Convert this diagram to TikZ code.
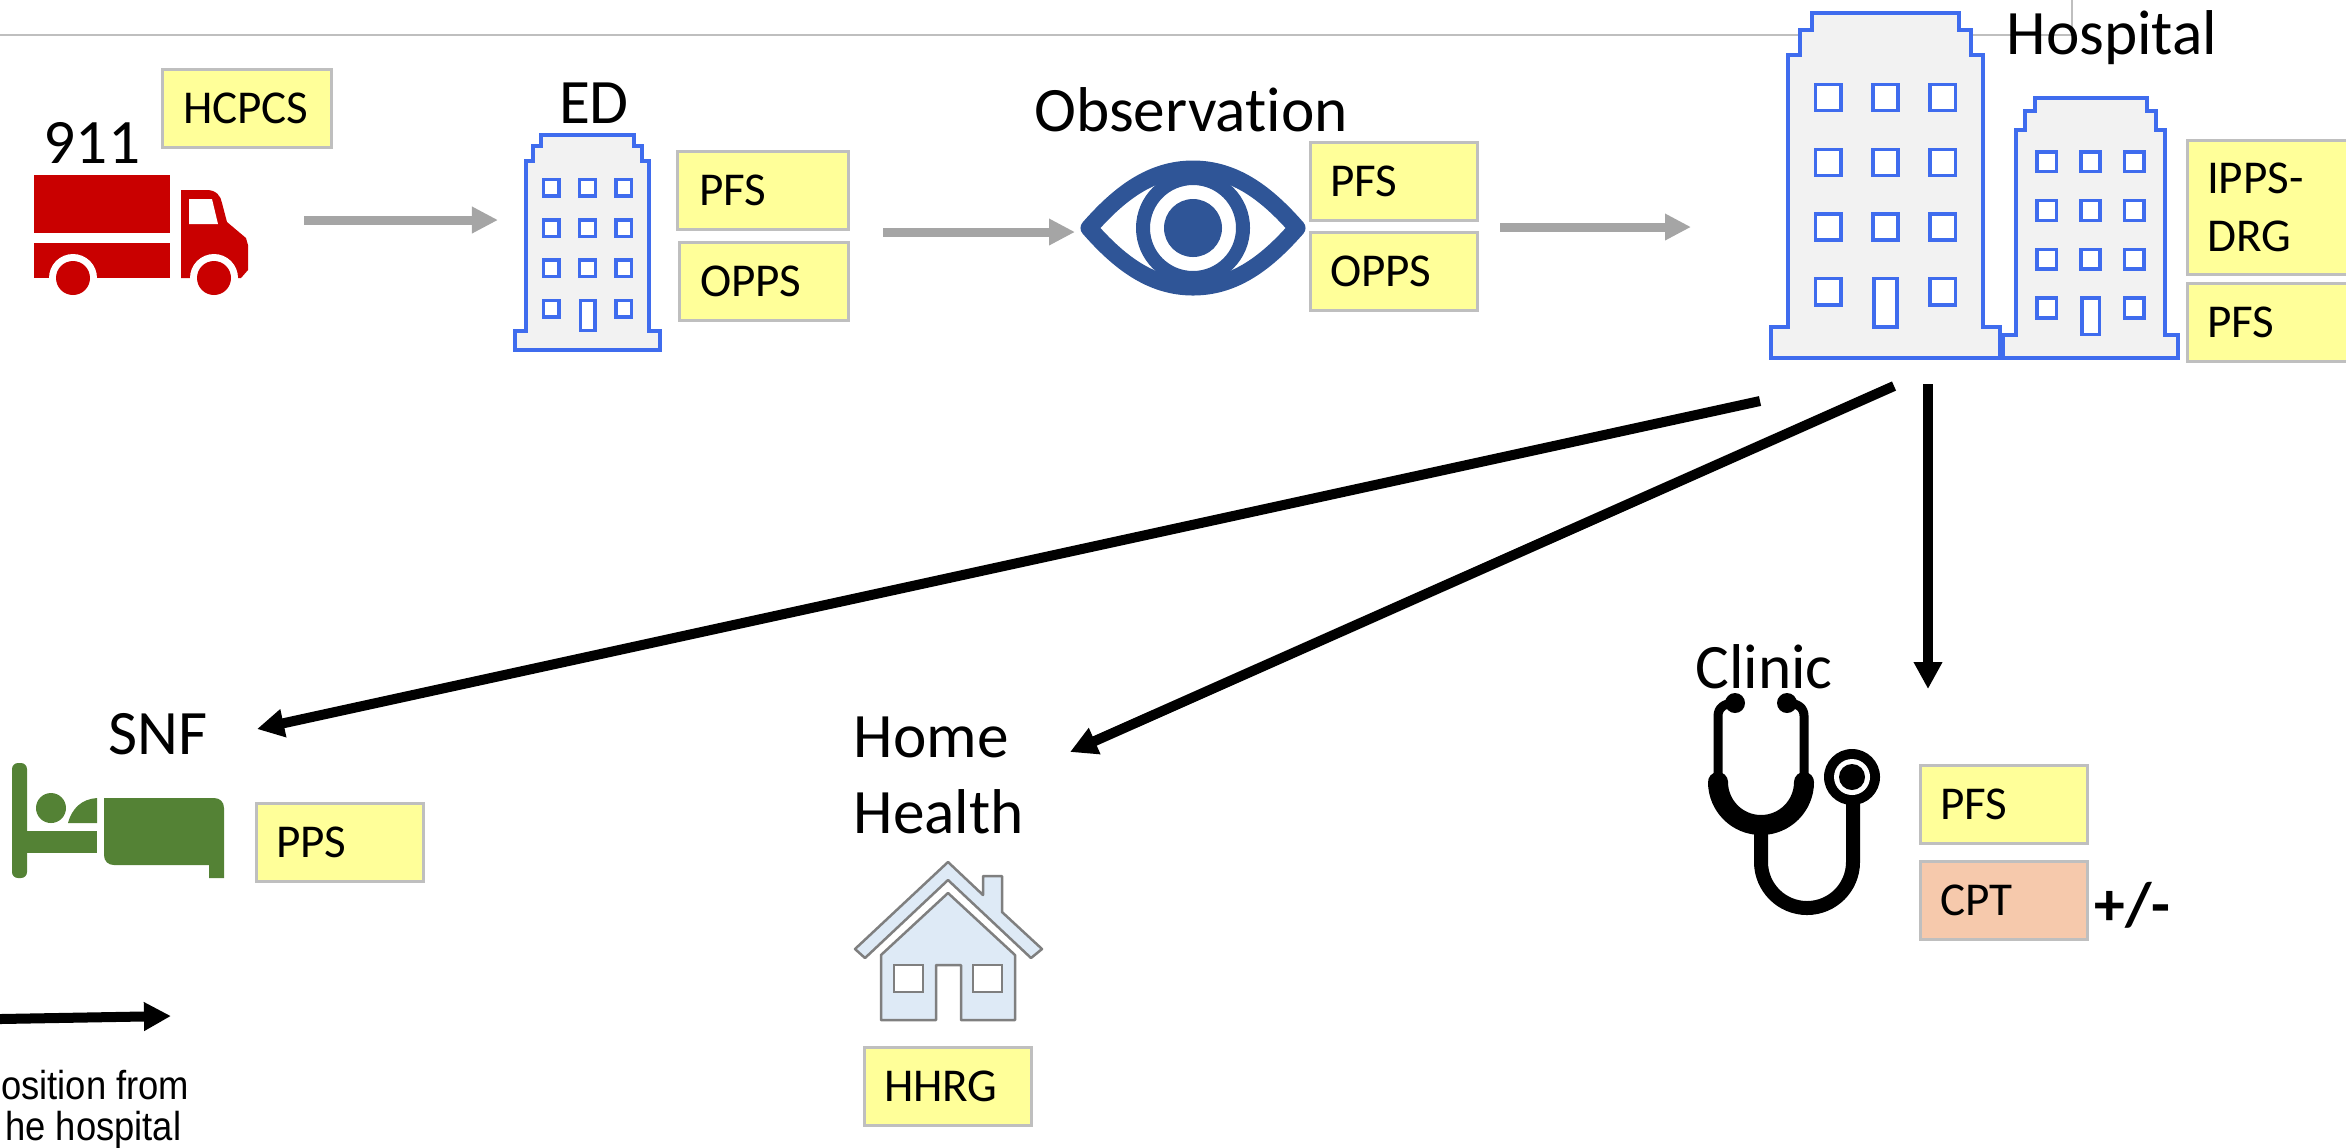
\documentclass[tikz,border=0pt]{standalone}
\usepackage{fontspec}
\setmainfont{Carlito}[Ligatures=NoCommon]
\newfontfamily\notefont[FakeStretch=0.9]{Liberation Sans}
\usetikzlibrary{arrows.meta}
\definecolor{boxyellow}{HTML}{FFFF99}
\definecolor{boxorange}{HTML}{F6C9AC}
\definecolor{boxedge}{HTML}{BFBFBF}
\definecolor{flowgray}{HTML}{A5A5A5}
\definecolor{bldblue}{HTML}{3F6CEE}
\definecolor{bldfill}{HTML}{F2F2F2}
\definecolor{truckred}{HTML}{C90000}
\definecolor{eyeblue}{HTML}{2F5597}
\definecolor{bedgreen}{HTML}{548235}
\definecolor{housefill}{HTML}{DEEAF6}
\definecolor{houseedge}{HTML}{7F7F7F}
\tikzstyle{label} = [font=\fontsize{18}{21.3}\selectfont, inner sep=0pt, align=left]
\tikzstyle{codebox} = [anchor=north west, draw=boxedge, fill=boxyellow, line width=0.03cm, inner xsep=0.2cm, inner ysep=0pt, outer sep=0pt, text width=1.27cm, minimum width=1.67cm, minimum height=0.78cm, align=left, font=\fontsize{13.4}{16.5}\selectfont]
\tikzstyle{flow} = [-{Triangle[length=0.26cm,width=0.25cm]}, flowgray, line width=0.09cm]
\tikzstyle{route} = [-{Triangle[length=0.27cm,width=0.27cm]}, black, line width=0.1cm]
\tikzstyle{note} = [anchor=east, inner sep=0pt, font=\notefont\fontsize{11.5}{13}\selectfont]
\newcommand{\building}[4]{%
  \begin{scope}[shift={(#1,#2)},xscale=#3,yscale=#4]
    \draw[bldblue, fill=bldfill, line width=0.04cm] (0.18,0) -- (0.82,0) -- (0.82,0.05) -- (0.875,0.05) -- (0.875,0.122) -- (0.925,0.122) -- (0.925,0.91) -- (1,0.91) -- (1,1) -- (0,1) -- (0,0.91) -- (0.075,0.91) -- (0.075,0.122) -- (0.125,0.122) -- (0.125,0.05) -- (0.18,0.05) -- cycle;
    \foreach \wx in {0.25,0.5,0.75}
      \foreach \wy in {0.245,0.433,0.62}
        \draw[bldblue, fill=white, line width=0.035cm] (\wx-0.055,\wy-0.038) rectangle (\wx+0.055,\wy+0.038);
    \foreach \wx in {0.25,0.75}
      \draw[bldblue, fill=white, line width=0.035cm] (\wx-0.055,0.77) rectangle (\wx+0.055,0.846);
    \draw[bldblue, fill=white, line width=0.035cm] (0.45,0.77) rectangle (0.55,0.91);
  \end{scope}}

\begin{document}
\begin{tikzpicture}[x=0.01cm,y=-0.01cm]
  \useasboundingbox (0,0) rectangle (2346,1147);
  \clip (0,0) rectangle (2346,1147);
  \draw[boxedge, line width=0.02cm] (0,35) -- (2072,35);
  \draw[boxedge, line width=0.015cm] (2072,0) -- (2072,35);

  % truck
  \fill[truckred] (34,175) rectangle (170,233);
  \fill[truckred] (34,243) rectangle (170,278);
  \fill[truckred] (181,190) -- (207,190) .. controls (216,190) and (221,196) .. (222,203) -- (227,222) -- (246,238) -- (248,245) -- (248,270) -- (241,278) -- (181,278) -- cycle;
  \fill[white] (189,199) -- (212,199) -- (218,224) -- (189,224) -- cycle;
  \foreach \wheelx in {73,214} {
    \fill[white] (\wheelx,278) circle (24);
    \fill[truckred] (\wheelx,278) circle (17);
  }
  \node[label] (call) at (92,143) {911};
  \node[codebox, minimum width=1.69cm] (hcpcs) at (162,69) {HCPCS};

  % emergency department
  \building{515}{135}{145}{215}
  \node[label] (ed) at (594,103) {ED};
  \node[codebox, minimum width=1.71cm] (edpfs) at (677,151) {PFS};
  \node[codebox, minimum width=1.69cm] (edopps) at (679,242) {OPPS};

  % observation
  \draw[eyeblue, line width=0.17cm, line join=round] (1089,228) .. controls (1118,195) and (1150,169) .. (1193,169) .. controls (1236,169) and (1268,195) .. (1297,228) .. controls (1268,261) and (1236,287) .. (1193,287) .. controls (1150,287) and (1118,261) .. (1089,228) -- cycle;
  \draw[eyeblue, line width=0.14cm] (1193,228) circle (50);
  \fill[eyeblue] (1193,228) circle (29);
  \node[label] (obs) at (1191,110) {Observation};
  \node[codebox] (obspfs) at (1310,142) {PFS};
  \node[codebox] (obsopps) at (1310,232) {OPPS};

  % hospital
  \building{1771}{13}{229}{345}
  \building{2003}{98}{175}{260}
  \node[label] (hosp) at (2112,38) {Hospital};
  \node[codebox, minimum height=1.34cm] (ipps) at (2187,140) {IPPS-\\DRG};
  \node[codebox] (hosppfs) at (2187,283) {PFS};

  % flow along the top
  \coordinate (truckout) at (304,220);
  \coordinate (edin) at (498,220);
  \coordinate (edout) at (883,232);
  \coordinate (obsin) at (1075,232);
  \coordinate (obsout) at (1500,227);
  \coordinate (hospin) at (1691,227);
  \draw[flow] (truckout) -- (edin);
  \draw[flow] (edout) -- (obsin);
  \draw[flow] (obsout) -- (hospin);

  % nursing facility
  \fill[bedgreen, rounded corners=0.06cm] (12,878) -- (12,763) -- (27,763) -- (27,878) -- cycle;
  \fill[bedgreen] (20,831) rectangle (97,853);
  \fill[bedgreen] (51,808) circle (15);
  \fill[bedgreen] (68,823) .. controls (72,808) and (82,799) .. (97,798) -- (97,823) -- cycle;
  \fill[bedgreen] (104,798) -- (214,798) .. controls (220,798) and (224,802) .. (224,808) -- (224,878) -- (209,878) -- (209,865) -- (114,865) .. controls (108,865) and (104,861) .. (104,855) -- cycle;
  \node[label] (snf) at (158,734) {SNF};
  \node[codebox] (pps) at (256,803) {PPS};

  % home health
  \draw[houseedge, fill=housefill, line width=0.025cm, line join=round] (948,862) -- (983,895) -- (983,876) -- (1002,876) -- (1002,912) -- (1042,949) -- (1031,958) -- (948,880) -- (865,958) -- (855,949) -- cycle;
  \draw[houseedge, fill=housefill, line width=0.025cm, line join=round] (948,893) -- (1015,955) -- (1015,1020) -- (961,1020) -- (961,965) -- (936,965) -- (936,1020) -- (881,1020) -- (881,955) -- cycle;
  \draw[houseedge, fill=white, line width=0.025cm] (894,965) rectangle (923,992);
  \draw[houseedge, fill=white, line width=0.025cm] (973,965) rectangle (1002,992);
  \node[label, anchor=west] (home) at (853,737) {Home};
  \node[label, anchor=west] (health) at (853,812) {Health};
  \node[codebox] (hhrg) at (864,1047) {HHRG};

  % clinic
  \draw[black, line width=0.09cm] (1735,703) .. controls (1724,703) and (1718,708) .. (1718,716) -- (1718,782);
  \draw[black, line width=0.09cm] (1787,703) .. controls (1798,703) and (1804,708) .. (1804,716) -- (1804,782);
  \fill[black] (1735,703) circle (10);
  \fill[black] (1787,703) circle (10);
  \draw[black, line width=0.2cm, line cap=round] (1718,782) arc[start angle=180, end angle=0, radius=43];
  \draw[black, line width=0.14cm] (1761,825) -- (1761,862) arc[start angle=180, end angle=0, radius=46] -- (1853,790);
  \fill[black] (1852,777) circle (28);
  \fill[white] (1852,777) circle (18);
  \fill[black] (1852,777) circle (13);
  \node[label] (clinic) at (1764,667) {Clinic};
  \node[codebox] (clinpfs) at (1920,765) {PFS};
  \node[codebox, fill=boxorange] (cpt) at (1920,861) {CPT};
  \node[label, anchor=west, font=\bfseries\fontsize{17.5}{20}\selectfont] (plus) at (2094,905) {+/-};

  % routes out of the hospital
  \coordinate (snfout) at (1760,401);
  \coordinate (snfin) at (257,729);
  \coordinate (homeout) at (1894,386);
  \coordinate (homein) at (1070,752);
  \coordinate (clinout) at (1928,384);
  \coordinate (clinin) at (1928,689);
  \draw[route] (snfout) -- (snfin);
  \draw[route] (homeout) -- (homein);
  \draw[route] (clinout) -- (clinin);

  \coordinate (noteout) at (0,1019);
  \coordinate (notein) at (171,1016);
  \draw[route] (noteout) -- (notein);
  \node[note] (note1) at (190,1085) {osition from};
  \node[note] (note2) at (182,1130) {he hospital};
\end{tikzpicture}
\end{document}
